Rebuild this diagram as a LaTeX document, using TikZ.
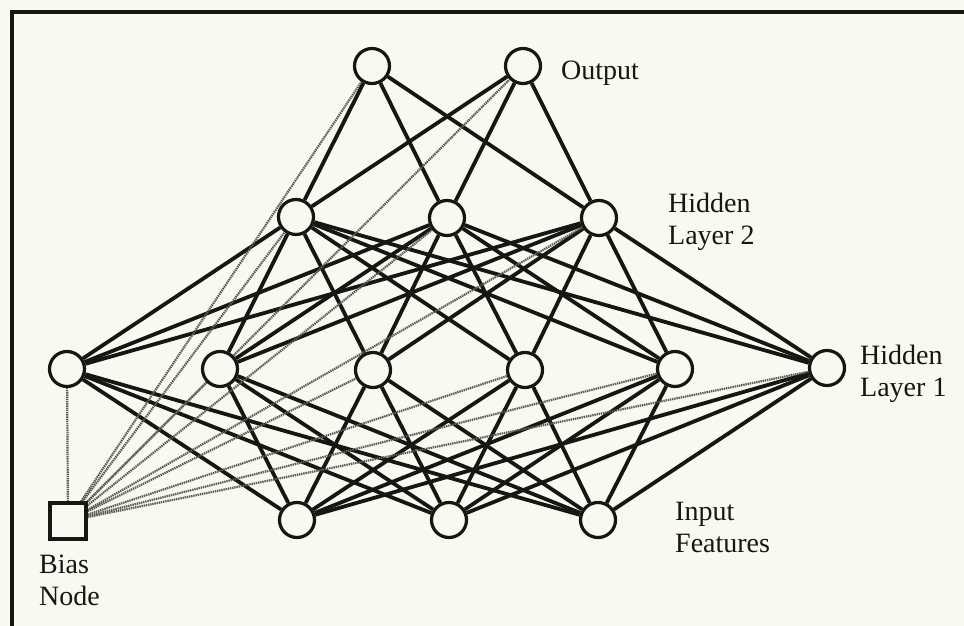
\documentclass[tikz,border=0pt]{standalone}
\usepackage{fontspec}
\setmainfont{Liberation Serif}
\definecolor{paper}{RGB}{248,249,240}
\definecolor{ink}{RGB}{22,22,18}
\definecolor{biasgray}{RGB}{90,90,84}
\pgfdeclarelayer{bg}
\pgfdeclarelayer{wires}
\pgfsetlayers{bg,wires,main}

\begin{document}
\begin{tikzpicture}[x=1pt,y=-1pt,
  neuron/.style={circle,draw=ink,line width=3.2pt,fill=paper,minimum size=35pt,inner sep=0pt},
  biasbox/.style={rectangle,draw=ink,line width=3.2pt,fill=paper,minimum size=36pt,inner sep=0pt},
  link/.style={draw=ink,line width=3.8pt},
  biaslink/.style={draw=biasgray,line width=2.2pt,dash pattern=on 1.4pt off 0.8pt},
  lbl/.style={anchor=base west,inner sep=0pt,font=\fontsize{28}{32}\selectfont,text=ink}]

\useasboundingbox (0,0) rectangle (964,626);

% paper and frame
\begin{pgfonlayer}{bg}
  \fill[paper] (0,0) rectangle (964,626);
  \draw[ink,line width=3.2pt] (12,626) -- (12,12) -- (964,12);
\end{pgfonlayer}

% output layer
\node[neuron] (o1) at (372,66) {};
\node[neuron] (o2) at (523,66) {};
% hidden layer 2
\node[neuron] (b1) at (296,217) {};
\node[neuron] (b2) at (447,218) {};
\node[neuron] (b3) at (599,218) {};
% hidden layer 1
\node[neuron] (a1) at (67,369) {};
\node[neuron] (a2) at (220,369) {};
\node[neuron] (a3) at (373,370) {};
\node[neuron] (a4) at (525,370) {};
\node[neuron] (a5) at (675,369) {};
\node[neuron] (a6) at (827,368) {};
% input features
\node[neuron] (i1) at (297,520) {};
\node[neuron] (i2) at (449,520) {};
\node[neuron] (i3) at (598,520) {};
% bias node
\node[biasbox] (bias) at (68,521) {};

% weights
\begin{pgfonlayer}{wires}
  \foreach \s in {i1,i2,i3}
    \foreach \t in {a1,a2,a3,a4,a5,a6}
      \draw[link] (\s) -- (\t);
  \foreach \s in {a1,a2,a3,a4,a5,a6}
    \foreach \t in {b1,b2,b3}
      \draw[link] (\s) -- (\t);
  \foreach \s in {b1,b2,b3}
    \foreach \t in {o1,o2}
      \draw[link] (\s) -- (\t);
  \foreach \t in {a1,a2,a3,a4,a5,a6,b1,b2,b3,o1,o2}
    \draw[biaslink] (bias) -- (\t);
\end{pgfonlayer}

% labels
\node[lbl] (tout) at (561,80) {Output};
\node[lbl] (th2a) at (668,212) {Hidden};
\node[lbl] (th2b) at (668,244) {Layer 2};
\node[lbl] (th1a) at (860,364) {Hidden};
\node[lbl] (th1b) at (860,396) {Layer 1};
\node[lbl] (tina) at (675,520) {Input};
\node[lbl] (tinb) at (675,552) {Features};
\node[lbl] (tbia) at (39,573) {Bias};
\node[lbl] (tbib) at (39,605) {Node};
\end{tikzpicture}
\end{document}
